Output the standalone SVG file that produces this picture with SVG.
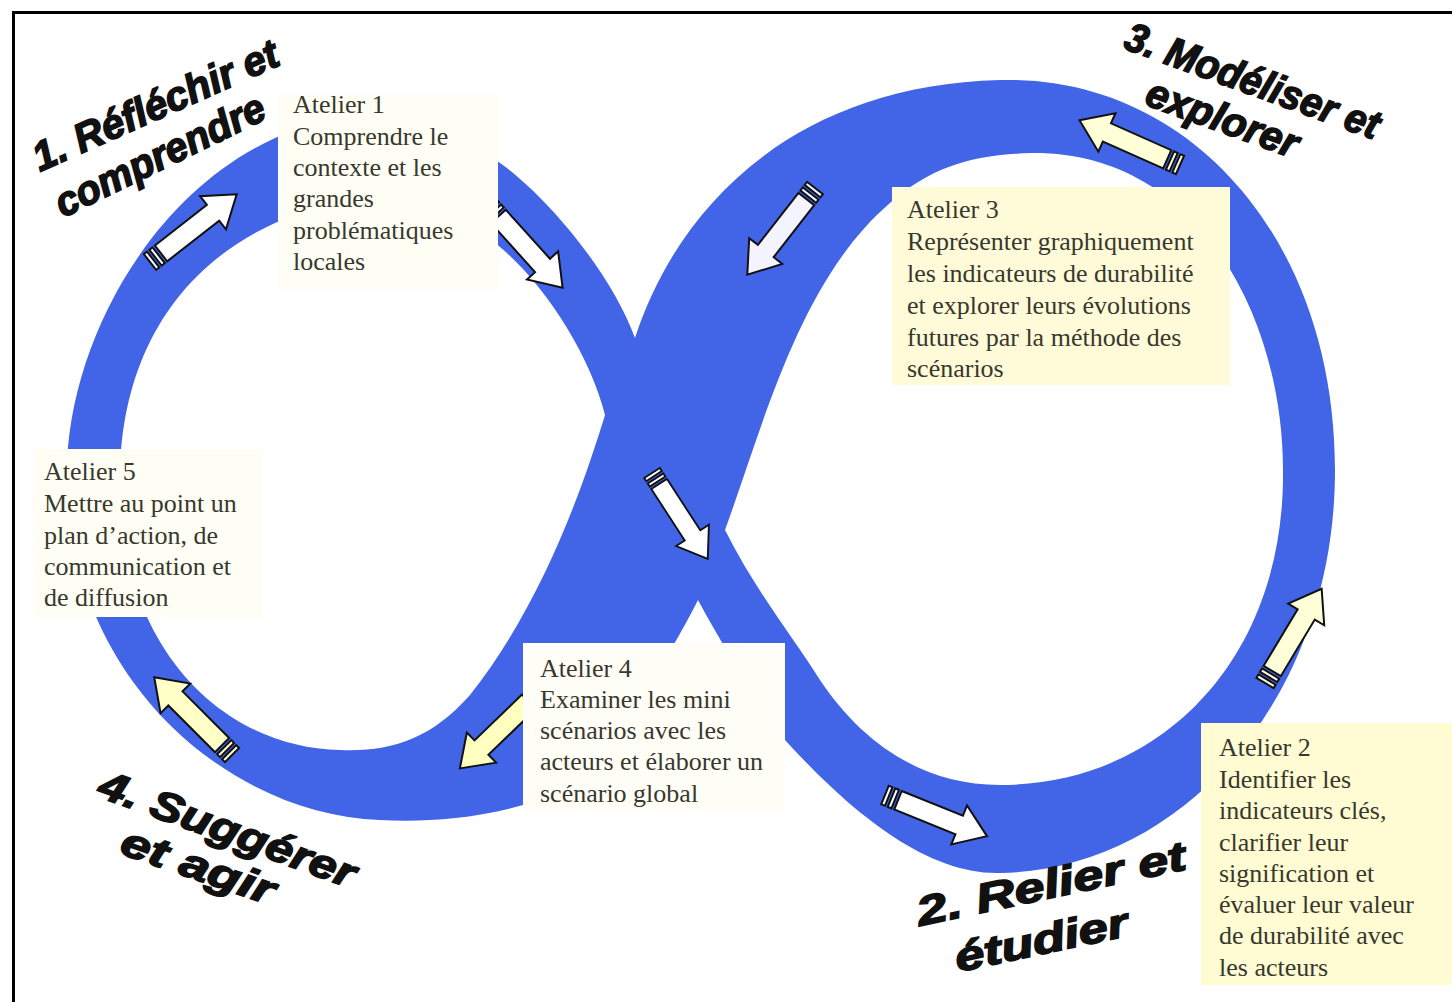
<svg xmlns="http://www.w3.org/2000/svg" xmlns:xlink="http://www.w3.org/1999/xlink" width="1452" height="1002" viewBox="0 0 1452 1002">
<style>
.box{stroke:none}
.atxt{font-family:"Liberation Serif","Times New Roman",serif;font-size:26px;fill:#38382e}
.lbl{font-family:"Liberation Sans",Arial,sans-serif;font-weight:bold;font-style:italic;font-size:41px;fill:#111;stroke:#111;stroke-width:1.6}
.arr{stroke:#111;stroke-width:2;stroke-linejoin:miter}
</style>
<defs>
<g id="arrow">
<rect x="0" y="-10" width="4" height="20"/>
<rect x="7" y="-10" width="4" height="20"/>
<path d="M14,-10 H80 V-21 L110,0 L80,21 V10 H14 Z"/>
</g>
</defs>
<rect width="1452" height="1002" fill="#fff"/>
<rect x="13.5" y="12.5" width="1460" height="1010" fill="none" stroke="#000" stroke-width="3"/>

<g id="band">
<path fill="#4264e6" fill-rule="evenodd" d="
M67,480 C64,360 140,200 275,138 C340,108 440,115 500,163 C545,195 610,270 635,338
C680,200 800,85 1000,80 C1190,75 1335,240 1335,470 C1335,700 1180,870 1000,873
C920,875 840,800 785,740 C760,705 722,645 698,600 C678,640 610,765 523,805
C470,820 420,822 380,820 C230,815 70,680 67,480 Z
M605,415 C585,480 545,600 470,695 C430,740 390,752 340,750 C230,748 135,660 122,520
C110,400 150,280 275,223 C340,195 450,200 500,247 C545,285 590,355 605,415 Z
M725,530 C765,420 800,280 890,203 C930,168 970,155 1030,153 C1200,150 1283,320 1283,470
C1285,660 1160,785 1000,785 C920,785 860,740 820,680 C795,640 755,590 725,530 Z"/>
</g>

<g id="connectors" class="arr">
<use xlink:href="#arrow" transform="translate(150,262) rotate(-38)" fill="#ffffff"/>
<use xlink:href="#arrow" transform="translate(489,206) rotate(48)" fill="#ffffff"/>
<use xlink:href="#arrow" transform="translate(815,188) rotate(128)" fill="#f4f4ff"/>
<use xlink:href="#arrow" transform="translate(1180,165) rotate(204)" fill="#ffffd8"/>
<use xlink:href="#arrow" transform="translate(652,473) rotate(57) scale(0.93)" fill="#ffffff"/>
<use xlink:href="#arrow" transform="translate(1265,683) rotate(-59)" fill="#ffffd8"/>
<use xlink:href="#arrow" transform="translate(885,795) rotate(22)" fill="#ffffff"/>
<use xlink:href="#arrow" transform="translate(539,692) rotate(136)" fill="#ffffc0"/>
<use xlink:href="#arrow" transform="translate(232,755) rotate(225)" fill="#ffffc8"/>
</g>

<g id="atelier1">
<rect class="box" x="278" y="95" width="220" height="194" fill="#fffef4"/>
<text class="atxt" x="293" y="113">Atelier 1</text>
<text class="atxt" x="293" y="145">Comprendre le</text>
<text class="atxt" x="293" y="176">contexte et les</text>
<text class="atxt" x="293" y="207">grandes</text>
<text class="atxt" x="293" y="239">problématiques</text>
<text class="atxt" x="293" y="270">locales</text>
</g>

<g id="atelier3">
<rect class="box" x="892" y="187" width="338" height="198" fill="#fffbd8"/>
<text class="atxt" x="907" y="218">Atelier 3</text>
<text class="atxt" x="907" y="250">Représenter graphiquement</text>
<text class="atxt" x="907" y="282">les indicateurs de durabilité</text>
<text class="atxt" x="907" y="314">et explorer leurs évolutions</text>
<text class="atxt" x="907" y="346">futures par la méthode des</text>
<text class="atxt" x="907" y="377">scénarios</text>
</g>

<g id="atelier5">
<rect class="box" x="34" y="449" width="229" height="168" fill="#fffef4"/>
<text class="atxt" x="44" y="480">Atelier 5</text>
<text class="atxt" x="44" y="512">Mettre au point un</text>
<text class="atxt" x="44" y="544">plan d’action, de</text>
<text class="atxt" x="44" y="575">communication et</text>
<text class="atxt" x="44" y="606">de diffusion</text>
</g>

<g id="atelier4">
<rect class="box" x="523" y="643" width="262" height="169" fill="#fffef6"/>
<text class="atxt" x="540" y="677">Atelier 4</text>
<text class="atxt" x="540" y="708">Examiner les mini</text>
<text class="atxt" x="540" y="739">scénarios avec les</text>
<text class="atxt" x="540" y="770">acteurs et élaborer un</text>
<text class="atxt" x="540" y="802">scénario global</text>
</g>

<g id="atelier2">
<rect class="box" x="1201" y="723" width="251" height="262" fill="#fffbd2"/>
<text class="atxt" x="1219" y="756">Atelier 2</text>
<text class="atxt" x="1219" y="788">Identifier les</text>
<text class="atxt" x="1219" y="819">indicateurs clés,</text>
<text class="atxt" x="1219" y="851">clarifier leur</text>
<text class="atxt" x="1219" y="882">signification et</text>
<text class="atxt" x="1219" y="913">évaluer leur valeur</text>
<text class="atxt" x="1219" y="944">de durabilité avec</text>
<text class="atxt" x="1219" y="976">les acteurs</text>
</g>

<g id="label1">
<text class="lbl" transform="translate(40,172) rotate(-24)" textLength="265" lengthAdjust="spacingAndGlyphs">1. Réfléchir et</text>
<text class="lbl" transform="translate(63,218) rotate(-26)" textLength="229" lengthAdjust="spacingAndGlyphs">comprendre</text>
</g>
<g id="label3">
<text class="lbl" transform="translate(1122,48) rotate(20)" textLength="268" lengthAdjust="spacingAndGlyphs">3. Modéliser et</text>
<text class="lbl" transform="translate(1143,104) rotate(20)" textLength="159" lengthAdjust="spacingAndGlyphs">explorer</text>
</g>
<g id="label4">
<text class="lbl" transform="translate(96,796) rotate(20)" textLength="270" lengthAdjust="spacingAndGlyphs">4. Suggérer</text>
<text class="lbl" transform="translate(118,853) rotate(19)" textLength="160" lengthAdjust="spacingAndGlyphs">et agir</text>
</g>
<g id="label2">
<text class="lbl" transform="translate(920,926) rotate(-12)" textLength="274" lengthAdjust="spacingAndGlyphs">2. Relier et</text>
<text class="lbl" transform="translate(958,972) rotate(-12)" textLength="176" lengthAdjust="spacingAndGlyphs">étudier</text>
</g>
</svg>
